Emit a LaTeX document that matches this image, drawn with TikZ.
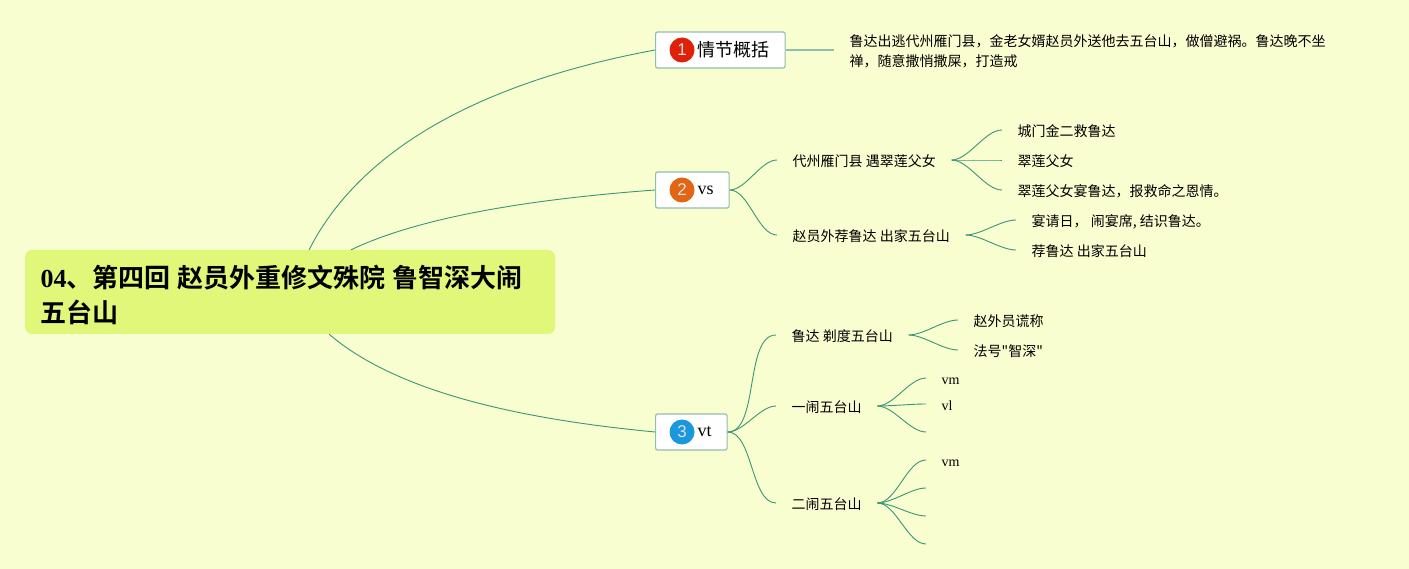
\documentclass[tikz,border=0pt]{standalone}
\usepackage{fontspec}
\setmainfont{Liberation Serif}
\setsansfont{Liberation Sans}
\newfontfamily\cjk[BoldFont={Noto Sans CJK SC Bold}]{Noto Sans CJK SC}
\usepackage{xcolor}
\usetikzlibrary{positioning}
\definecolor{paper}{HTML}{F9FED0}
\definecolor{rootfill}{HTML}{E0F77A}
\definecolor{linkgreen}{HTML}{3A9675}
\definecolor{boxline}{HTML}{8FBFAE}
\tikzset{
    rootbox/.style={rectangle, rounded corners=7pt, fill=rootfill, anchor=west, inner xsep=15.4pt, inner ysep=0pt,
        minimum height=84pt, text width=499pt, align=left, font=\fontsize{26}{35}\selectfont\bfseries},
    topic/.style={draw=boxline, line width=1.2pt, fill=white, rounded corners=2pt, anchor=west, inner xsep=15.5pt,
        inner ysep=0pt, minimum height=36pt, font=\fontsize{18}{20}\selectfont},
    badge/.style={circle, minimum size=25pt, inner sep=0pt, text=white!88!black, font=\fontsize{17}{17}\sffamily\selectfont},
    item/.style={anchor=west, inner xsep=15.5pt, inner ysep=0pt, text height=12.4pt, text depth=0pt, font=\fontsize{14}{20}\selectfont},
    note/.style={anchor=west, inner xsep=16pt, inner ysep=0pt, align=left, font=\fontsize{14}{20}\selectfont},
    link/.style={draw=linkgreen, line width=0.9pt, every edge/.append style={draw=linkgreen, line width=0.9pt, out=0, in=180, looseness=0.75}},
}
\begin{document}
\begin{tikzpicture}[x=1pt, y=-1pt]
    \useasboundingbox[fill=paper] (0,0) rectangle (1409,569);

    % centre
    \node[rootbox] (root) at (25,292) {\rule{0pt}{29pt}04\cjk 、第四回\kern6.8pt 赵员外重修文殊院\kern6.8pt 鲁智深大闹\\\cjk 五台山};

    % main topics
    \node[topic] (topicA) at (655,50) {\hspace{26.5pt}\cjk 情节概括};
    \node[topic] (topicB) at (655,190) {\hspace{26.5pt}vs};
    \node[topic] (topicC) at (655,432) {\hspace{26.5pt}vt};
    \node[badge, fill={rgb,255:red,224;green,33;blue,10}] (badgeA) at ([xshift=27pt]topicA.west) {1};
    \node[badge, fill={rgb,255:red,226;green,101;blue,20}] (badgeB) at ([xshift=27pt]topicB.west) {2};
    \node[badge, fill={rgb,255:red,26;green,151;blue,221}] (badgeC) at ([xshift=27pt]topicC.west) {3};

    % first level
    \node[note] (plot) at (833.5,50) {\rule{0pt}{14.3pt}\cjk 鲁达出逃代州雁门县，金老女婿赵员外送他去五台山，做僧避祸。鲁达晚不坐\\\cjk 禅，随意撒悄撒屎，打造戒};
    \node[item] (meet) at (777,160) {\cjk 代州雁门县 遇翠莲父女};
    \node[item] (join) at (777,235) {\cjk 赵员外荐鲁达 出家五台山};
    \node[item] (shave) at (776,335) {\cjk 鲁达 剃度五台山};
    \node[item] (riotA) at (776,406) {\cjk 一闹五台山};
    \node[item] (riotB) at (776,503) {\cjk 二闹五台山};

    % leaves
    \node[item] (meetA) at (1002,130) {\cjk 城门金二救鲁达};
    \node[item] (meetB) at (1002,160) {\cjk 翠莲父女};
    \node[item] (meetC) at (1002,190) {\cjk 翠莲父女宴鲁达，报救命之恩情。};
    \node[item] (joinA) at (1016,220) {\cjk 宴请日， 闹宴席, 结识鲁达。};
    \node[item] (joinB) at (1016,250) {\cjk 荐鲁达 出家五台山};
    \node[item] (shaveA) at (958,320) {\cjk 赵外员谎称};
    \node[item] (shaveB) at (958,350) {\cjk 法号"智深"};
    \node[item] (riotAa) at (926,378) {vm};
    \node[item] (riotAb) at (926,404) {vl};
    \coordinate (riotAc) at (926,432);
    \node[item] (riotBa) at (926,460) {vm};
    \coordinate (riotBb) at (926,488);
    \coordinate (riotBc) at (926,516);
    \coordinate (riotBd) at (926,544);

    % connectors from the centre
    \draw[link] ([xshift=19pt]root.north) .. controls (370,130) and (520,75) .. (topicA.west);
    \draw[link] ([xshift=61pt]root.north) .. controls (430,212) and (560,197) .. (topicB.west);
    \draw[link] ([xshift=39pt]root.south) .. controls (400,395) and (530,420) .. (topicC.west);
    \draw[draw=boxline, line width=1.4pt] (topicA.east) -- (plot.west);

    \path[link]
        (topicB.east) edge (meet.west)
                      edge (join.west)
        (topicC.east) edge (shave.west)
                      edge (riotA.west)
                      edge (riotB.west)
        (meet.east) edge (meetA.west)
                    edge (meetB.west)
                    edge (meetC.west)
        (join.east) edge (joinA.west)
                    edge (joinB.west)
        (shave.east) edge (shaveA.west)
                     edge (shaveB.west)
        (riotA.east) edge (riotAa.west)
                     edge (riotAb.west)
                     edge (riotAc)
        (riotB.east) edge (riotBa.west)
                     edge (riotBb)
                     edge (riotBc)
                     edge (riotBd);
\end{tikzpicture}
\end{document}
